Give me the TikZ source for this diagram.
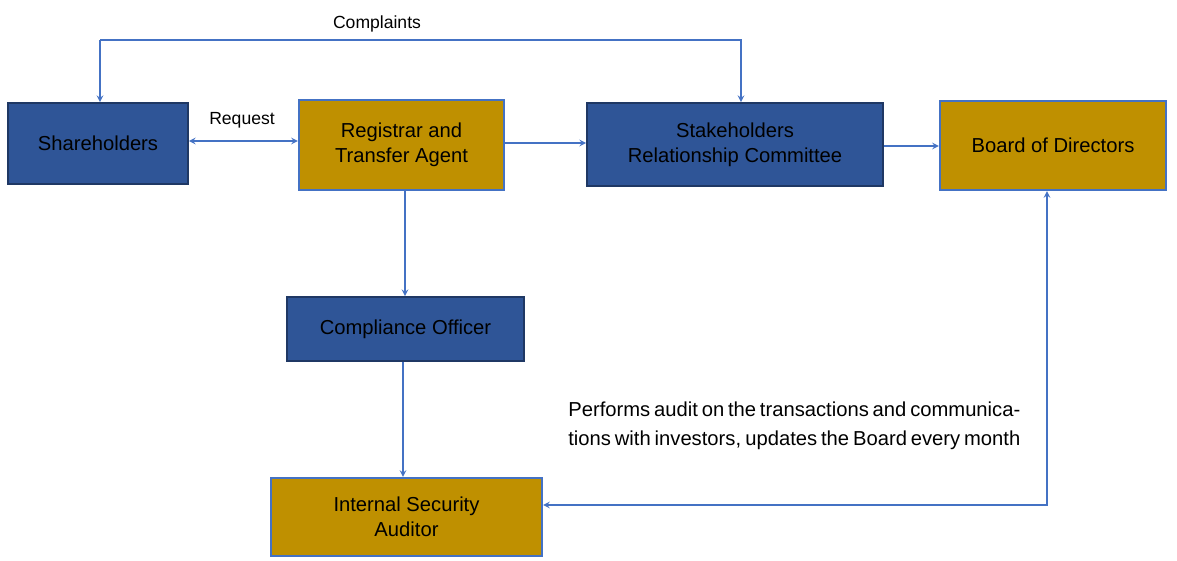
\documentclass[tikz,border=0pt]{standalone}
\usepackage{fontspec}
\setmainfont{Liberation Sans}
\usetikzlibrary{positioning}
\definecolor{boxblue}{HTML}{2F5597}
\definecolor{boxgold}{HTML}{BF9000}
\definecolor{edgeblue}{HTML}{1F3864}
\definecolor{linkblue}{HTML}{4472C4}
\begin{document}
\begin{tikzpicture}[x=0.02cm,y=-0.02cm,>=stealth,
    blue node/.style={draw=edgeblue,line width=1pt,fill=boxblue,align=center,font=\fontsize{11.5pt}{14pt}\selectfont,inner sep=0pt},
    gold node/.style={draw=linkblue,line width=1.2pt,fill=boxgold,align=center,font=\fontsize{11.5pt}{14pt}\selectfont,inner sep=0pt},
    link/.style={draw=linkblue,line width=0.7pt}]

            \useasboundingbox (0,0) rectangle (1177,561);

            \node[blue node,minimum width=180*0.02cm,minimum height=81*0.02cm] (share) at (98,143.5) {Shareholders};
            \node[gold node,minimum width=205*0.02cm,minimum height=90*0.02cm] (regi) at (401.5,145) {Registrar and\\Transfer Agent};
            \node[blue node,minimum width=296*0.02cm,minimum height=83*0.02cm] (stake) at (735,144.5) {Stakeholders\\Relationship Committee};
            \node[gold node,minimum width=226*0.02cm,minimum height=89*0.02cm] (board) at (1053,145.5) {Board of Directors};
            \node[blue node,minimum width=237*0.02cm,minimum height=64*0.02cm] (comp) at (405.5,329) {Compliance Officer};
            \node[gold node,minimum width=271*0.02cm,minimum height=78*0.02cm] (audit) at (406.5,517) {Internal Security\\Auditor};

            \coordinate (c1) at (100,40);
            \coordinate (c2) at (741,40);
            \coordinate (c3) at (1047,505);

            \draw[link,->] (c1) -- (share.north -| c1);
            \draw[link,->] (c1) -- (c2) -- (stake.north -| c2);
            \node (complaints) at (377,24) {Complaints};

            \draw[link,<->] (share.east |- 0,141) -- (regi.west |- 0,141);
            \node (request) at (242,120) {Request};
            \draw[link,->] (regi.east |- 0,143) -- (stake.west |- 0,143);
            \draw[link,->] (stake.east |- 0,146) -- (board.west |- 0,146);
            \draw[link,->] (regi.south -| 405,0) -- (comp.north -| 405,0);
            \draw[link,->] (comp.south -| 403,0) -- (audit.north -| 403,0);
            \draw[link,<->] (board.south -| c3) -- (c3) -- (audit.east |- c3);

            \node[text width=452*0.02cm,align=justify,anchor=north west,inner sep=0pt,
                  font=\fontsize{11.5pt}{16.5pt}\selectfont] (note) at (568,402)
                {Performs audit on the transactions and communications with investors, updates the Board every month};
        \end{tikzpicture}
\end{document}
